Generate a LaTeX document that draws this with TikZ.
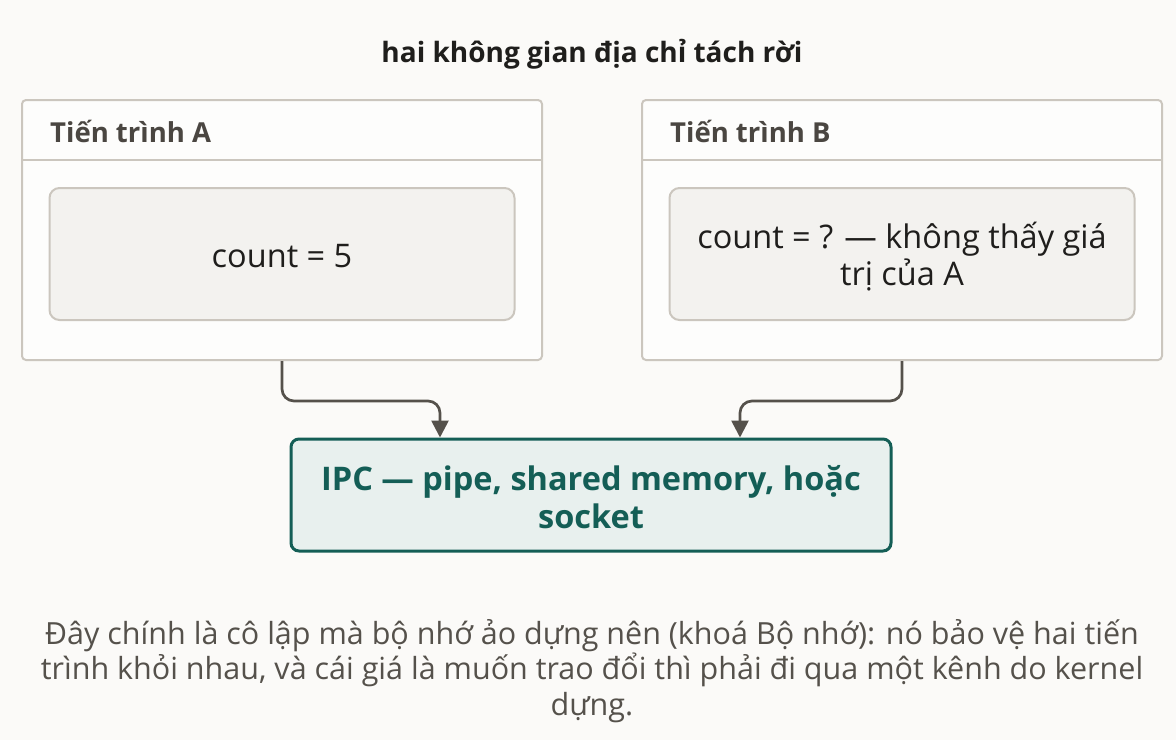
\documentclass[tikz,border=0pt]{standalone}
\usepackage{fontspec}
\setmainfont{Open Sans}
\usetikzlibrary{calc,arrows.meta}
\definecolor{bg}{HTML}{FBFAF8}
\definecolor{boxline}{HTML}{CBC6BE}
\definecolor{innerfill}{HTML}{F3F2EF}
\definecolor{headtxt}{HTML}{4A4641}
\definecolor{darktxt}{HTML}{1F1E1C}
\definecolor{captxt}{HTML}{55514B}
\definecolor{teal}{HTML}{145E56}
\definecolor{tealfill}{HTML}{E8F0EE}
\definecolor{arrowc}{HTML}{55514B}
\tikzset{
  outerbox/.style={draw=boxline, line width=2pt, fill=white!60!bg, rounded corners=4pt, minimum width=520pt, minimum height=260pt, inner sep=0pt},
  innerbox/.style={draw=boxline, line width=2pt, fill=innerfill, rounded corners=10pt, minimum width=465pt, minimum height=132pt, inner sep=0pt},
  innertext/.style={align=center, font=\fontsize{32.5}{37}\selectfont, text=darktxt, inner sep=0pt},
  headlabel/.style={anchor=west, font=\fontsize{27.5}{30}\selectfont\bfseries, text=headtxt, inner sep=0pt},
  ipcbox/.style={draw=teal, line width=3pt, fill=tealfill, rounded corners=8pt, minimum width=600pt, minimum height=112pt, inner sep=0pt},
  ipctext/.style={align=center, font=\fontsize{32.5}{38}\selectfont\bfseries, text=teal, inner sep=0pt},
  conn/.style={draw=arrowc, line width=2.7pt, rounded corners=12pt, -{Triangle[length=17pt,width=17pt]}},
}
\begin{document}
\begin{tikzpicture}[x=1pt,y=-1pt]
\fill[bg] (0,0) rectangle (1176,740);
\useasboundingbox (0,0) rectangle (1176,740);
\node[font=\fontsize{28}{30}\selectfont\bfseries, text=darktxt] (title) at (592,54) {hai không gian địa chỉ tách rời};
% Process A
\node[outerbox] (A) at (282,230) {};
\draw[boxline, line width=2pt] (A.west |- 0,160) -- (A.east |- 0,160);
\node[headlabel] (Ah) at (50,131) {Tiến trình A};
\node[innerbox] (Ai) at (282,254) {};
\node[innertext] (Ait) at (282,256) {count = 5};
% Process B
\node[outerbox] (B) at (902,230) {};
\draw[boxline, line width=2pt] (B.west |- 0,160) -- (B.east |- 0,160);
\node[headlabel] (Bh) at (670,131) {Tiến trình B};
\node[innerbox] (Bi) at (902,254) {};
\node[innertext] (Bit) at (902,257) {count = ? — không thấy giá\\trị của A};
% IPC
\node[ipcbox] (ipc) at (591,495) {};
\node[ipctext] (ipct) at (591,497) {IPC — pipe, shared memory, hoặc\\socket};
% connectors
\draw[conn] (A.south) -- ++(0,40) -| ([xshift=-151pt]ipc.north);
\draw[conn] (B.south) -- ++(0,40) -| ([xshift=149pt]ipc.north);
% caption
\node[font=\fontsize{30.5}{35.5}\selectfont, text=captxt, align=center] (cap) at (592,671) {Đây chính là cô lập mà bộ nhớ ảo dựng nên (khoá Bộ nhớ): nó bảo vệ hai tiến\\trình khỏi nhau, và cái giá là muốn trao đổi thì phải đi qua một kênh do kernel\\dựng.};
\end{tikzpicture}
\end{document}
